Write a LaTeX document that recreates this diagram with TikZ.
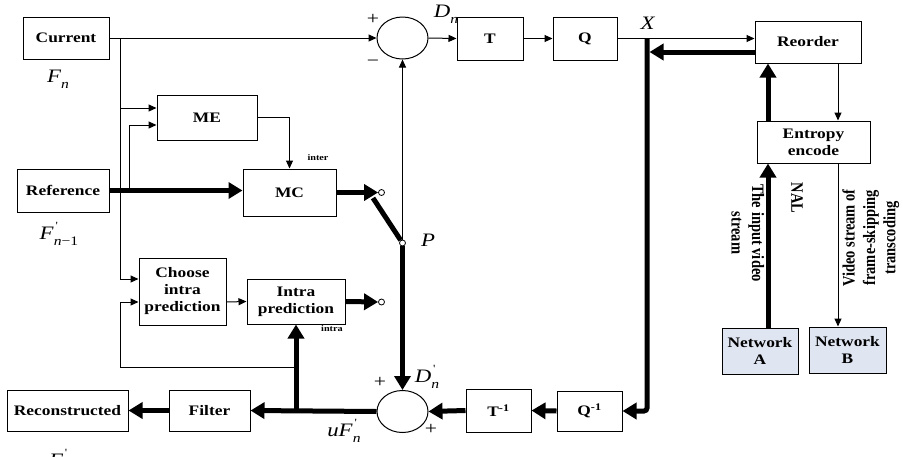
\documentclass[tikz,border=0pt]{standalone}
\usepackage{fontspec}
\usepackage{graphicx}
\setmainfont{Liberation Serif}[FakeStretch=1.2]
\newfontfamily\rotfont{Liberation Serif}
\usetikzlibrary{arrows.meta,shapes.geometric}
\definecolor{netfill}{RGB}{224,229,242}
\newcommand{\lbl}[3]{\textit{#1}\rlap{\raisebox{0.5em}{\fontsize{11}{11}\selectfont\,#2}}\raisebox{-0.32em}{\fontsize{13}{13}\selectfont #3}}
\tikzset{
  box/.style={draw, line width=1pt, fill=white, font=\fontsize{14.5}{17}\selectfont\bfseries, align=center, inner sep=1pt},
  netbox/.style={box, fill=netfill},
  thinarr/.style={line width=1pt, -{Triangle[length=8pt,width=7pt]}},
  thinln/.style={line width=1pt},
  thickarr/.style={line width=5pt, -{Triangle[length=14pt,width=16pt]}},
  thickln/.style={line width=5pt},
  sumnode/.style={draw, ellipse, line width=1pt, minimum width=51pt, minimum height=42pt, inner sep=0pt},
  port/.style={draw, circle, fill=white, line width=0.8pt, inner sep=0pt, minimum size=6pt},
  mlabel/.style={font=\fontsize{19}{20}\selectfont, inner sep=0pt},
  signlbl/.style={font=\fontsize{18}{18}\selectfont, inner sep=0pt},
  tinylbl/.style={font=\fontsize{8.5}{9}\selectfont\bfseries, inner sep=0pt},
  rotlbl/.style={font=\rotfont\fontsize{14.5}{17}\selectfont\bfseries, inner sep=0pt},
}
\begin{document}
\begin{tikzpicture}[x=1pt,y=-1pt]
\fill[white] (0,0) rectangle (903,456);
\useasboundingbox (0,0) rectangle (903,456);

% boxes
\node[box, minimum width=86pt, minimum height=42pt] (cur) at (66,38) {Current};
\node[box, minimum width=100pt, minimum height=45pt] (me) at (207,117.5) {ME};
\node[box, minimum width=92pt, minimum height=43pt] (ref) at (63,190.5) {Reference};
\node[box, minimum width=93pt, minimum height=47pt] (mc) at (289.5,192.5) {MC};
\node[box, minimum width=87pt, minimum height=67pt] (choose) at (182.5,291.5) {Choose\\intra\\prediction};
\node[box, minimum width=98pt, minimum height=45pt] (intra) at (296,301.5) {Intra\\prediction};
\node[box, minimum width=121pt, minimum height=41pt] (recon) at (67.5,410.5) {Reconstructed};
\node[box, minimum width=81pt, minimum height=41pt] (filter) at (209.5,410.5) {Filter};
\node[box, minimum width=65pt, minimum height=43pt] (tinv) at (498.5,410.5) {T\textsuperscript{-1}};
\node[box, minimum width=65pt, minimum height=40pt] (qinv) at (589.5,411) {Q\textsuperscript{-1}};
\node[box, minimum width=66pt, minimum height=43pt] (T) at (490,38.5) {T};
\node[box, minimum width=64pt, minimum height=43pt] (Q) at (585,38.5) {Q};
\node[box, minimum width=106pt, minimum height=42pt] (reorder) at (808,42) {Reorder};
\node[box, minimum width=113pt, minimum height=42pt] (entropy) at (813.5,142) {Entropy\\encode};
\node[netbox, minimum width=76pt, minimum height=46pt] (netA) at (760,351) {Network\\A};
\node[netbox, minimum width=77pt, minimum height=46pt] (netB) at (847.5,350) {Network\\B};

% summing junctions
\node[sumnode] (sum1) at (402.5,38) {};
\node[sumnode] (sum2) at (402.5,411.5) {};

% switch ports
\node[port] (c1) at (381.5,192.5) {};
\node[port] (c2) at (381.5,302) {};
\node[port] (pc) at (402.5,243) {};

% coordinates
\coordinate (b1) at (120,38);
\coordinate (b2) at (120,108);
\coordinate (j2) at (129,190.5);
\coordinate (sw1) at (373,198);
\coordinate (xv) at (647,38);
\coordinate (xr) at (649.5,52);
\coordinate (j3) at (296,410.5);
\coordinate (fb) at (296,367);
\coordinate (fbl) at (120,367);

% top path
\draw[thinarr] (cur.east) -- (sum1.west);
\draw[thinln] (b1) -- (b2);
\draw[thinarr] (b2) |- ([yshift=12.5pt]choose.west);
\draw[thinarr] (b2) -- ([yshift=9.5pt]me.west);
\draw[thinarr] (j2) |- ([yshift=-7.5pt]me.west);
\draw[thinarr] (me.east) -| (mc.north);
\draw[thickarr] (ref.east) -- (ref.east -| mc.west);
\draw[thickarr] (mc.east) -- (c1.west);
\draw[thickln] (sw1) -- (pc);
\draw[thinarr] (pc) -- (sum1.south);
\draw[thickarr] (pc) -- (sum2.north);
\draw[thinarr] ([yshift=-10.5pt]choose.east) -- (intra.west);
\draw[thickarr] (intra.east) -- (c2.west);
\draw[thinarr] (sum1.east) -- (T.west);
\draw[thinarr] (T.east) -- (Q.west);
\draw[thinarr] (Q.east) -- (Q.east -| reorder.west);

% right side
\draw[thickarr, rounded corners=3pt] (xv) |- (qinv.east);
\draw[thickarr] ([yshift=-10pt]reorder.west) -- (xr);
\draw[thinarr] ([xshift=30pt]reorder.south) -- ([xshift=24.5pt]entropy.north);
\draw[thinarr] ([xshift=24.5pt]entropy.south) -- ([xshift=24.5pt]entropy.south |- netB.north);
\draw[thickarr] ([xshift=8pt]netA.north) -- ([xshift=8pt]netA.north |- entropy.south);
\draw[thickarr] ([xshift=-45.5pt]entropy.north) -- ([xshift=-45.5pt]entropy.north |- reorder.south);

% bottom path
\draw[thickarr] (qinv.west) -- (tinv.east);
\draw[thickarr] (tinv.west) -- (sum2.east);
\draw[thickarr] (sum2.west) -- (filter.east);
\draw[thickarr] (filter.west) -- (recon.east);
\draw[thickarr] (j3) -- (intra.south);
\draw[thinln] (fb) -- (fbl);
\draw[thinarr] (fbl) |- ([yshift=-10.5pt]choose.west);

% labels
\node[mlabel] at (58,79) {\lbl{F}{}{\textit{n}}};
\node[mlabel] at (59,234) {\lbl{F}{\textquotesingle}{\textit{n}−1}};
\node[mlabel] at (60,461) {\lbl{F}{\textquotesingle}{\textit{n}}};
\node[tinylbl] at (318,158) {inter};
\node[tinylbl] at (332,329) {intra};
\node[signlbl] at (373,19) {+};
\node[signlbl] at (373,63) {−};
\node[mlabel] at (446,14) {\lbl{D}{}{\textit{n}}};
\node[mlabel] at (648,23) {\textit{X}};
\node[mlabel] at (428,240) {\textit{P}};
\node[signlbl] at (380,382) {+};
\node[mlabel] at (427,377) {\lbl{D}{\textquotesingle}{\textit{n}}};
\node[signlbl] at (431,429) {+};
\node[mlabel] at (344,431) {\textit{u}\lbl{F}{\textquotesingle}{\textit{n}}};

% rotated labels
\node[rotlbl, rotate=-90] at (797,198) {\scalebox{1}[1.2]{NAL}};
\node[rotlbl, rotate=-90] at (746,233) {\scalebox{1}[1.2]{\begin{tabular}{@{}c@{}}The input video\\stream\end{tabular}}};
\node[rotlbl, rotate=90] at (871,238) {\scalebox{1}[1.2]{\begin{tabular}{@{}c@{}}Video stream of\\frame-skipping\\transcoding\end{tabular}}};
\end{tikzpicture}
\end{document}
